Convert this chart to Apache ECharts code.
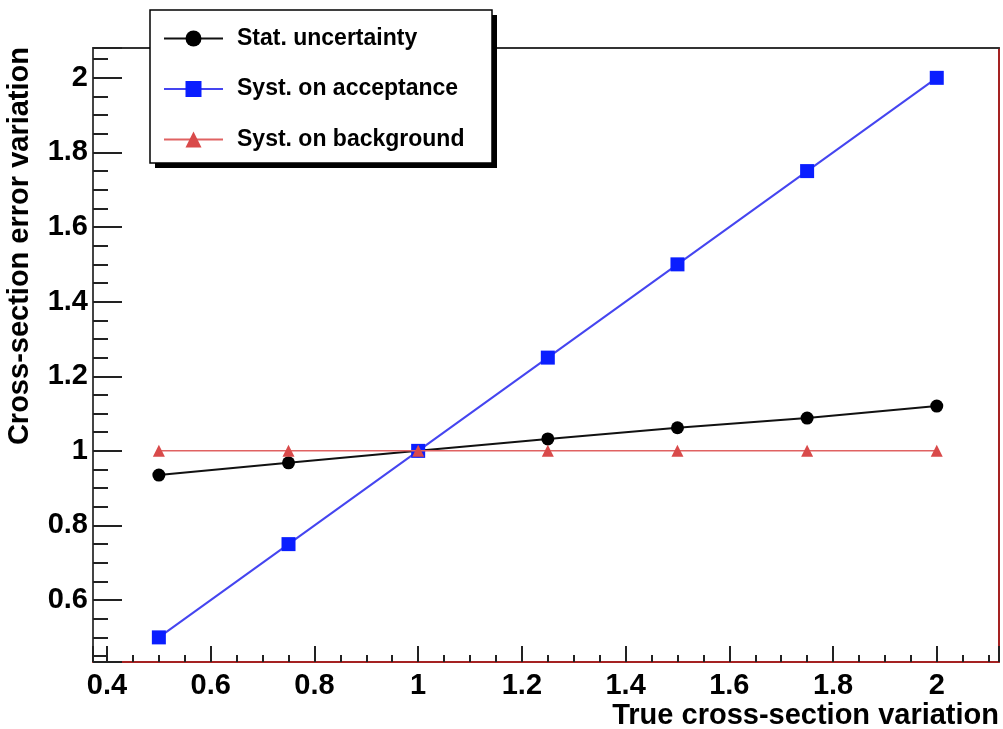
<!DOCTYPE html>
<html>
<head>
<meta charset="utf-8">
<script src="https://cdn.jsdelivr.net/npm/echarts@6/dist/echarts.min.js"></script>
<style>
html,body{margin:0;padding:0;background:#fff;}
#chart{width:1003px;height:729px;}
</style>
</head>
<body>
<div id="chart"></div>
<script>
const xValues = [0.5, 0.75, 1.0, 1.25, 1.5, 1.75, 2.0];
const statUncertainty = [0.935, 0.968, 1.0, 1.032, 1.062, 1.088, 1.12];
const systAcceptance = [0.5, 0.75, 1.0, 1.25, 1.5, 1.75, 2.0];
const systBackground = [1.0, 1.0, 1.0, 1.0, 1.0, 1.0, 1.0];
const seriesNames = ['Stat. uncertainty', 'Syst. on acceptance', 'Syst. on background'];
const xTitle = 'True cross-section variation';
const yTitle = 'Cross-section error variation';

const pairs = (ys) => xValues.map((x, i) => [x, ys[i]]);
const FONT = '"Liberation Sans", Arial, Helvetica, sans-serif';

const chart = echarts.init(document.getElementById('chart'));
chart.setOption({
  animation: false,
  backgroundColor: '#fff',
  grid: { left: 93, right: 4, top: 48, bottom: 67, containLabel: false },
  xAxis: [{
    type: 'value', min: 0.373, max: 2.12, splitNumber: 8,
    axisLine: { show: true, onZero: false, lineStyle: { color: '#a52222', width: 2 } },
    axisTick: { show: true, inside: true, length: 16, lineStyle: { color: '#222', width: 2 } },
    minorTick: { show: true, splitNumber: 4, length: 7, lineStyle: { color: '#222', width: 2 } },
    splitLine: { show: false },
    axisLabel: { show: true, showMinLabel: false, showMaxLabel: false, margin: 9,
      color: '#000', fontFamily: FONT, fontWeight: 'bold', fontSize: 29 }
  }, {
    type: 'value', position: 'top', min: 0.373, max: 2.12,
    axisLine: { show: true, onZero: false, lineStyle: { color: '#333', width: 2 } },
    axisTick: { show: false }, axisLabel: { show: false }, splitLine: { show: false }
  }],
  yAxis: [{
    type: 'value', min: 0.434, max: 2.08, splitNumber: 8,
    axisLine: { show: true, onZero: false, lineStyle: { color: '#444', width: 2 } },
    axisTick: { show: true, inside: true, length: 29, lineStyle: { color: '#222', width: 2 } },
    minorTick: { show: true, splitNumber: 4, length: 15, lineStyle: { color: '#222', width: 2 } },
    splitLine: { show: false },
    axisLabel: { show: true, showMinLabel: false, showMaxLabel: false, margin: 5,
      color: '#000', fontFamily: FONT, fontWeight: 'bold', fontSize: 29 }
  }, {
    type: 'value', position: 'right', min: 0.434, max: 2.08,
    axisLine: { show: true, onZero: false, lineStyle: { color: '#a52222', width: 2 } },
    axisTick: { show: false }, axisLabel: { show: false }, splitLine: { show: false }
  }],
  legend: {
    orient: 'vertical', left: 150, top: 10,
    padding: [17, 20, 15, 13],
    itemWidth: 59, itemHeight: 20, itemGap: 27.5,
    backgroundColor: 'transparent', borderWidth: 0,
    textStyle: { color: '#000', fontFamily: FONT, fontWeight: 'bold', fontSize: 23,
      padding: [0, 0, 0, 9] },
    data: seriesNames, z: 20
  },
  series: [{
    name: seriesNames[0], type: 'line', data: pairs(statUncertainty),
    symbol: 'circle', symbolSize: 13,
    lineStyle: { color: '#111', width: 2 }, itemStyle: { color: '#000' }, z: 2
  }, {
    name: seriesNames[1], type: 'line', data: pairs(systAcceptance),
    symbol: 'rect', symbolSize: 14,
    lineStyle: { color: '#4545f0', width: 2 }, itemStyle: { color: '#0a1eff' }, z: 3
  }, {
    name: seriesNames[2], type: 'line', data: pairs(systBackground),
    symbol: 'triangle', symbolSize: 12,
    lineStyle: { color: '#e06262', width: 1.5 }, itemStyle: { color: '#d94a4a' }, z: 4
  }],
  graphic: [{
    type: 'rect', z: 10, shape: { x: 155, y: 15, width: 342, height: 153 },
    style: { fill: '#000' }
  }, {
    type: 'rect', z: 11, shape: { x: 150, y: 10, width: 342, height: 153 },
    style: { fill: '#fff', stroke: '#000', lineWidth: 1.5 }
  }, {
    type: 'text', right: 4, top: 701,
    style: { text: xTitle, fill: '#000', font: 'bold 29px ' + FONT, textAlign: 'right' }
  }, {
    type: 'text', x: 20, y: 47, rotation: Math.PI / 2,
    style: { text: yTitle, fill: '#000', font: 'bold 29px ' + FONT, textAlign: 'right', textVerticalAlign: 'middle' }
  }]
});
</script>
</body>
</html>
